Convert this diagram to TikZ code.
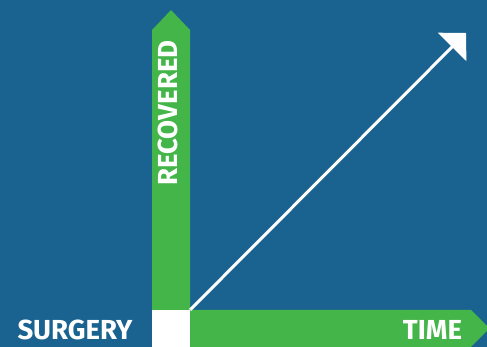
\documentclass[tikz,border=0pt]{standalone}
\usepackage{fontspec}
\setmainfont{Fira Sans}
\usepackage{tikz}
\usetikzlibrary{positioning,arrows.meta,calc}
\definecolor{bgblue}{HTML}{1A6391}
\definecolor{bargreen}{HTML}{43B549}
\tikzset{
  bar/.style={fill=bargreen},
  lbl/.style={text=white,font=\bfseries\fontsize{23.5}{23.5}\selectfont,inner sep=0pt},
  arr/.style={-{Triangle[length=5.9mm,width=11.9mm]},white,line width=0.9mm},
}
\begin{document}
\begin{tikzpicture}[x=0.3mm,y=0.3mm]
\useasboundingbox (0,0) rectangle (487,347);
\fill[bgblue] (0,0) rectangle (487,347);
\clip (0,0) rectangle (487,347);
% green bars
\fill[bar] (152,37) -- (152,317) -- (171,337) -- (190,317) -- (190,37) -- cycle;
\fill[bar] (190,0) -- (190,37) -- (471,37) -- (489.5,18.5) -- (471,0) -- cycle;
\fill[white] (152,0) rectangle (190,37);
\coordinate (origin) at (190,37);
\coordinate (goal) at (466,314);
\draw[arr] (origin) -- (goal);
% labels
\node[lbl] (surgery) at (75,17) {SURGERY};
\node[lbl] (time) at (432.5,17) {TIME};
\node[lbl,rotate=90] (recovered) at (168,234) {RECOVERED};
\end{tikzpicture}
\end{document}
